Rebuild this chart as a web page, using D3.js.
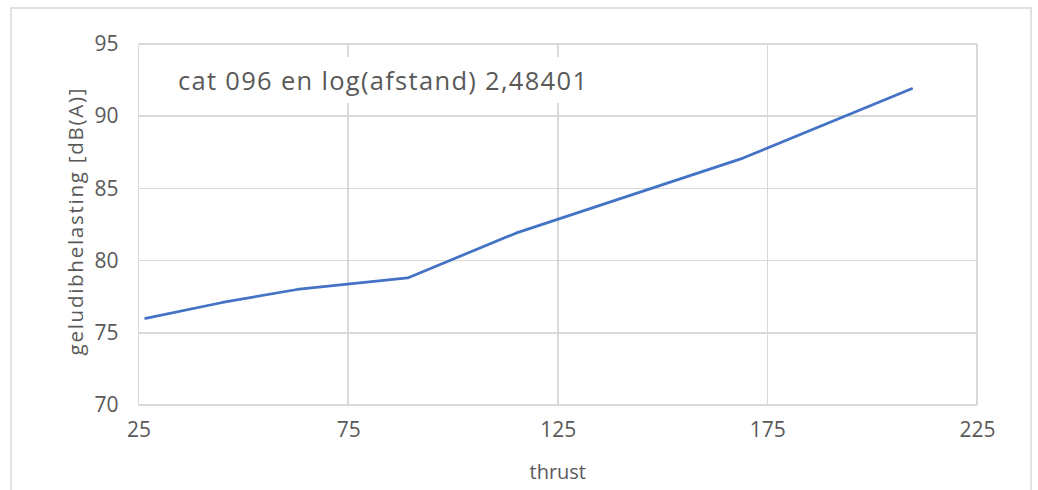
<!DOCTYPE html>
<html>
<head>
    <meta charset="utf-8">
    <title>geluidbelasting</title>
    <script src="https://d3js.org/d3.v7.min.js"></script>
    <style type="text/css">
        body { margin: 0; background: #fff; }
        .grid line { stroke: #d9d9d9; stroke-width: 1.5; shape-rendering: crispEdges; }
        .axis path, .axis line { display: none; }
        .axis text { font-family: "Open Sans", sans-serif; font-size: 21px; fill: #595959; }
    </style>
</head>
<body>
<script>
    var w = 1038;
    var h = 490;

    // data
    var thrust = [26.7, 45, 62.8, 89.2, 115, 169.2, 209.4];
    var geluid = [76.0, 77.1, 78.0, 78.8, 81.9, 87.1, 91.9];
    var xTicks = [25, 75, 125, 175, 225];
    var yTicks = [70, 75, 80, 85, 90, 95];
    var titel = "cat 096 en log(afstand) 2,48401";

    var pLeft = 138.5, pRight = 977, pTop = 44, pBottom = 405;

    var xScale = d3.scaleLinear().domain([25, 225]).range([pLeft, pRight]);
    var yScale = d3.scaleLinear().domain([70, 95]).range([pBottom, pTop]);

    var svg = d3.select("body").append("svg")
        .attr("width", w)
        .attr("height", h);

    // outer chart frame
    svg.append("rect")
        .attr("x", 11).attr("y", 8)
        .attr("width", 1020).attr("height", 500)
        .attr("fill", "#fff")
        .attr("stroke", "#d9d9d9")
        .attr("stroke-width", 1.5);

    // gridlines
    var grid = svg.append("g").attr("class", "grid");
    grid.selectAll(".gy").data(yTicks).enter().append("line")
        .attr("x1", pLeft).attr("x2", pRight)
        .attr("y1", function(d){ return yScale(d); })
        .attr("y2", function(d){ return yScale(d); });
    grid.selectAll(".gx").data(xTicks).enter().append("line")
        .attr("y1", pTop).attr("y2", pBottom)
        .attr("x1", function(d){ return xScale(d); })
        .attr("x2", function(d){ return xScale(d); });

    // axes (labels only)
    svg.append("g")
        .attr("class", "axis")
        .attr("transform", "translate(0," + pBottom + ")")
        .call(d3.axisBottom(xScale).tickValues(xTicks).tickSize(0).tickPadding(17));
    svg.append("g")
        .attr("class", "axis")
        .attr("transform", "translate(" + pLeft + ",0)")
        .call(d3.axisLeft(yScale).tickValues(yTicks).tickSize(0).tickPadding(20));

    // title with white box behind it
    var box = svg.append("rect").attr("fill", "#fff");
    var t = svg.append("text")
        .attr("x", 178).attr("y", 90)
        .attr("font-family", "Open Sans, sans-serif")
        .attr("font-size", "25.5px")
        .attr("textLength", 409)
        .attr("fill", "#595959")
        .text(titel);
    var bb = t.node().getBBox();
    box.attr("x", bb.x - 8).attr("y", bb.y - 6)
        .attr("width", bb.width + 16).attr("height", bb.height + 12);

    // line
    var line = d3.line()
        .x(function(d, i){ return xScale(thrust[i]); })
        .y(function(d){ return yScale(d); });
    svg.append("path")
        .datum(geluid)
        .attr("d", line)
        .attr("fill", "none")
        .attr("stroke", "#4472c4")
        .attr("stroke-width", 2.75)
        .attr("stroke-linejoin", "round")
        .attr("stroke-linecap", "round");

    // axis titles
    svg.append("text")
        .attr("transform", "translate(83,222) rotate(-90)")
        .attr("text-anchor", "middle")
        .attr("font-family", "Open Sans, sans-serif")
        .attr("font-size", "20.5px")
        .attr("textLength", 267)
        .attr("fill", "#595959")
        .text("geludibhelasting [dB(A)]");
    svg.append("text")
        .attr("x", xScale(125)).attr("y", 479)
        .attr("text-anchor", "middle")
        .attr("font-family", "Open Sans, sans-serif")
        .attr("font-size", "20px")
        .attr("fill", "#595959")
        .text("thrust");
</script>
</body>
</html>
